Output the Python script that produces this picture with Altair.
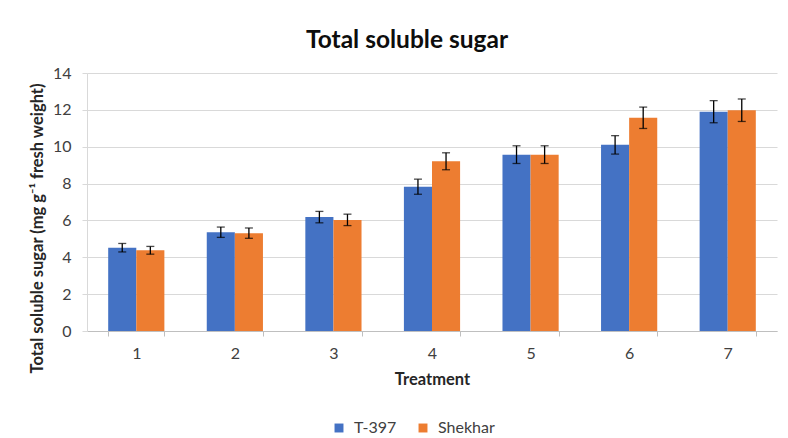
import altair as alt
import pandas as pd

treatments = ["1", "2", "3", "4", "5", "6", "7"]
series = ["T-397", "Shekhar"]
colors = ["#4472C4", "#ED7D31"]
t397 = [4.52, 5.36, 6.18, 7.83, 9.57, 10.10, 11.90]
t397_err = [0.23, 0.28, 0.31, 0.41, 0.48, 0.50, 0.60]
shekhar = [4.38, 5.31, 6.03, 9.21, 9.57, 11.57, 11.98]
shekhar_err = [0.21, 0.28, 0.31, 0.46, 0.48, 0.58, 0.61]
y_ticks = [0, 2, 4, 6, 8, 10, 12, 14]

rows = []
for i, t in enumerate(treatments):
    rows.append(dict(treatment=t, variety="T-397", value=t397[i], err=t397_err[i]))
    rows.append(dict(treatment=t, variety="Shekhar", value=shekhar[i], err=shekhar_err[i]))
df = pd.DataFrame(rows)
df["lo"] = df["value"] - df["err"]
df["hi"] = df["value"] + df["err"]

FONT = "Lato"
W, H = 690, 258
PL, PT, PR, PB = 79, 65, 3, 107

x = alt.X(
    "treatment:N",
    sort=treatments,
    scale=alt.Scale(paddingInner=0.43, paddingOuter=0.215),
    axis=alt.Axis(
        title="Treatment", labelAngle=0, tickBand="extent", tickSize=5,
        tickColor="#bfbfbf", domainColor="#bfbfbf", grid=False,
        labelFont=FONT, labelFontSize=16, labelColor="#404040", labelPadding=9,
        titleFont=FONT, titleFontSize=16.5, titleFontWeight="bold", titleColor="#262626",
        titlePadding=10,
    ),
)
xo = alt.XOffset("variety:N", sort=series, scale=alt.Scale(paddingInner=0, paddingOuter=0))
y_scale = alt.Scale(domain=[0, 14], nice=False)
y_axis = alt.Axis(
    values=y_ticks, title="Total soluble sugar  (mg g\u207b\u00b9 fresh weight)",
    grid=True, gridColor="#d9d9d9", domainColor="#d9d9d9", tickColor="#d9d9d9",
    tickSize=5, labelFont=FONT, labelFontSize=16, labelColor="#404040",
    labelPadding=11, labelOverlap=False,
    titleFont=FONT, titleFontSize=16.5, titleFontWeight="bold", titleColor="#262626",
    titleAngle=-90, titleX=-50, titleY=155, titleAlign="center", titleBaseline="middle",
)

base = alt.Chart(df)

bars = base.mark_bar().encode(
    x=x,
    xOffset=xo,
    y=alt.Y("value:Q", scale=y_scale, axis=y_axis),
    color=alt.Color(
        "variety:N",
        sort=series,
        scale=alt.Scale(domain=series, range=colors),
        legend=alt.Legend(
            title=None, orient="none", direction="horizontal", legendX=244, legendY=347,
            symbolType="square", symbolSize=80, symbolStrokeWidth=0, labelFont=FONT,
            labelFontSize=16, labelColor="#404040", labelOffset=7, columnPadding=18,
        ),
    ),
)

err = base.mark_rule(color="black", strokeWidth=1.3).encode(
    x=x, xOffset=xo, y=alt.Y("lo:Q", scale=y_scale, axis=y_axis), y2="hi:Q"
)
cap_lo = base.mark_tick(color="black", size=8, thickness=1.3, orient="horizontal").encode(
    x=x, xOffset=xo, y=alt.Y("lo:Q", scale=y_scale, axis=y_axis)
)
cap_hi = base.mark_tick(color="black", size=8, thickness=1.3, orient="horizontal").encode(
    x=x, xOffset=xo, y=alt.Y("hi:Q", scale=y_scale, axis=y_axis)
)

chart = alt.layer(bars, err, cap_lo, cap_hi).properties(
    width=W,
    height=H,
    autosize=alt.AutoSizeParams(type="none"),
    padding={"left": PL, "top": PT, "right": PR, "bottom": PB},
    title=alt.TitleParams(
        "Total soluble sugar", font=FONT, fontSize=24.5, fontWeight="bold", color="#0d0d0d",
        anchor="middle", frame="group", dx=-25, offset=12,
    ),
).configure_view(stroke=None)

chart.save("out.html", embed_options={"renderer": "svg", "actions": False})
